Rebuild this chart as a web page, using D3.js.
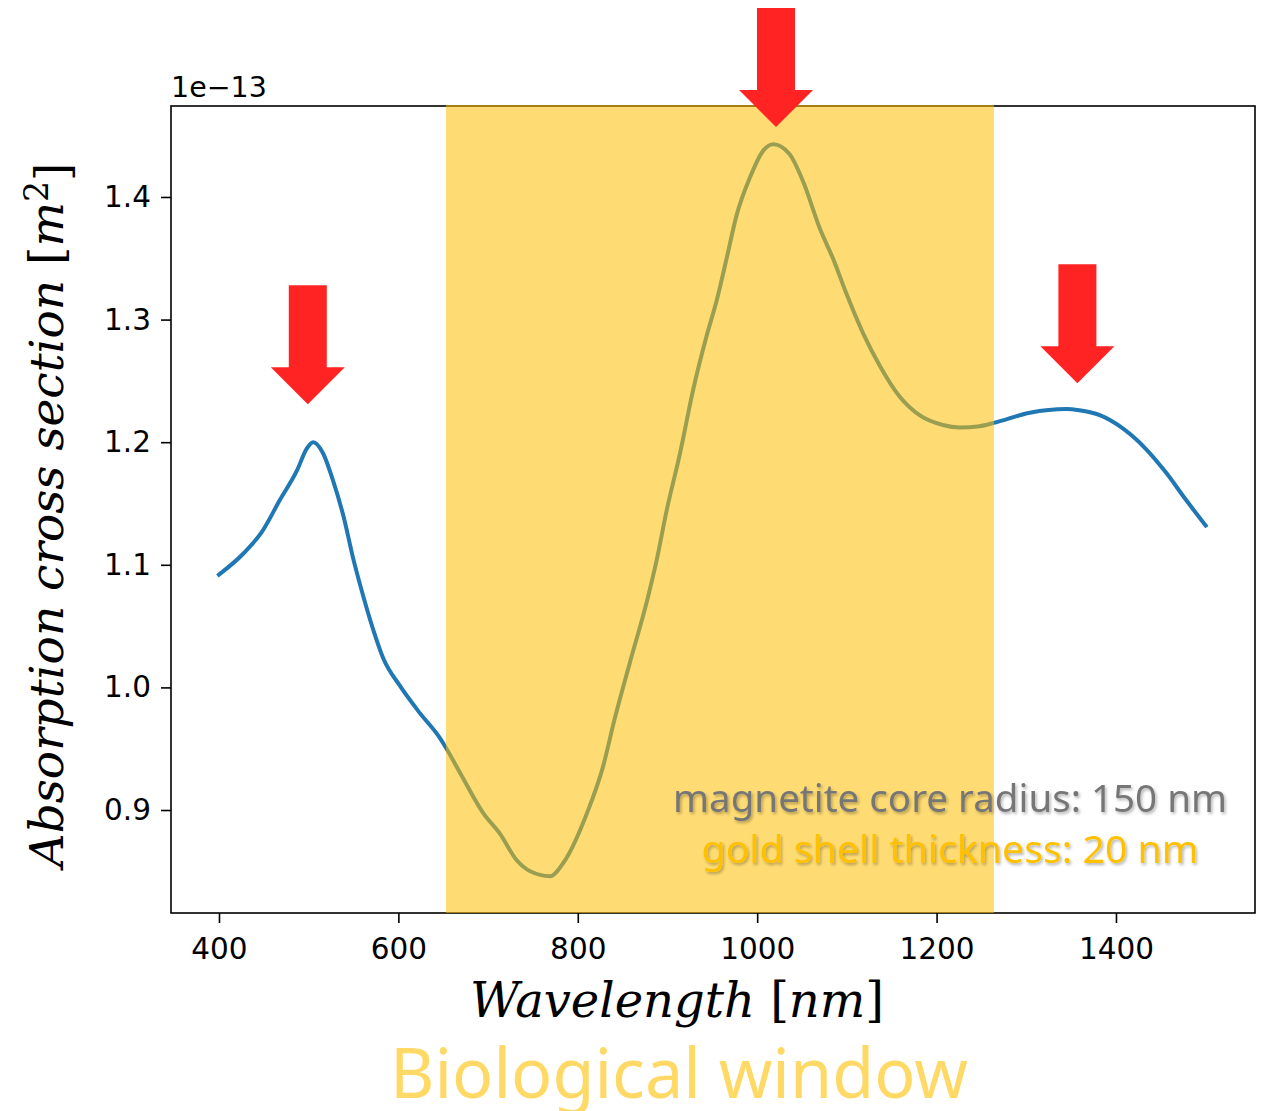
<!DOCTYPE html>
<html>
<head>
<meta charset="utf-8">
<script src="https://cdn.jsdelivr.net/npm/d3@7"></script>
<style>
  body { margin: 0; background: #fff; }
</style>
</head>
<body>
<svg id="chart" width="1268" height="1111"></svg>
<script>
// values (absorption in units of 1e-13 m^2)
const wavelength = [400, 427, 448, 468, 487, 498, 505, 516, 527, 539, 550, 561, 572, 583, 602, 624, 646, 652, 669, 695,
    713, 732, 747, 769, 784, 810, 828, 841, 858, 878, 888, 899, 914, 929, 943, 955, 966, 977, 992, 1007,
    1018, 1036, 1051, 1070, 1085, 1099, 1118, 1137, 1159, 1181, 1207, 1226, 1248, 1265, 1304, 1345, 1359, 1382, 1408, 1434,
    1456, 1478, 1500];
const absorption = [1.092, 1.109, 1.127, 1.153, 1.177, 1.195, 1.200, 1.191, 1.169, 1.139, 1.104, 1.074, 1.047, 1.024, 1.001, 0.979, 0.959, 0.952, 0.930, 0.897,
    0.881, 0.859, 0.850, 0.846, 0.857, 0.897, 0.935, 0.974, 1.020, 1.073, 1.104, 1.144, 1.191, 1.244, 1.285, 1.316, 1.350, 1.385, 1.416, 1.438,
    1.443, 1.435, 1.413, 1.374, 1.349, 1.322, 1.289, 1.262, 1.237, 1.222, 1.214, 1.212, 1.213, 1.216, 1.224, 1.227, 1.226, 1.222, 1.211, 1.194,
    1.175, 1.153, 1.132];

const xTicks = [400, 600, 800, 1000, 1200, 1400];
const yTicks = [0.9, 1.0, 1.1, 1.2, 1.3, 1.4];
const bandRange = [653, 1264];          // biological window (nm)
const arrowWavelength = [499, 1021, 1357];
const arrowTip = [1.231, 1.457, 1.248];
const notes = ["magnetite core radius: 150 nm", "gold shell thickness: 20 nm"];

const data = wavelength.map((w, i) => ({ w: w, v: absorption[i] }));

const margin = { top: 106, right: 13, bottom: 198, left: 171 };
const width = 1268, height = 1111;

const svg = d3.select("#chart");

const x = d3.scaleLinear().domain([346.5, 1555]).range([margin.left, width - margin.right]);
const y = d3.scaleLinear().domain([0.816, 1.4742]).range([height - margin.bottom, margin.top]);

const defs = svg.append("defs");
defs.append("filter")
    .attr("id", "shadow")
    .attr("x", "-10%").attr("y", "-30%").attr("width", "120%").attr("height", "160%")
    .append("feDropShadow")
    .attr("dx", 1.5).attr("dy", 2)
    .attr("stdDeviation", 1.5)
    .attr("flood-color", "#000")
    .attr("flood-opacity", 0.3);

// curve
const line = d3.line()
    .x(d => x(d.w))
    .y(d => y(d.v))
    .curve(d3.curveMonotoneX);

svg.append("path")
    .datum(data)
    .attr("d", line)
    .attr("fill", "none")
    .attr("stroke", "#1f77b4")
    .attr("stroke-width", 4)
    .attr("stroke-linejoin", "round")
    .attr("stroke-linecap", "square");

// axes
const xAxis = svg.append("g")
    .attr("transform", `translate(0, ${height - margin.bottom})`)
    .call(d3.axisBottom(x).tickValues(xTicks).tickSize(10).tickPadding(8).tickFormat(d3.format("d")));

const yAxis = svg.append("g")
    .attr("transform", `translate(${margin.left}, 0)`)
    .call(d3.axisLeft(y).tickValues(yTicks).tickSize(10).tickPadding(10).tickFormat(d3.format(".1f")));

[xAxis, yAxis].forEach(g => {
    g.select(".domain").remove();
    g.selectAll("line").attr("stroke", "#000").attr("stroke-width", 1.6);
    g.selectAll("text")
        .attr("fill", "#000")
        .style("font-family", "DejaVu Sans")
        .style("font-size", "29.5px");
});
xAxis.selectAll("text").attr("dy", "0.95em");

svg.append("rect")
    .attr("x", margin.left)
    .attr("y", margin.top)
    .attr("width", width - margin.left - margin.right)
    .attr("height", height - margin.top - margin.bottom)
    .attr("fill", "none")
    .attr("stroke", "#000")
    .attr("stroke-width", 1.6);

svg.append("text")
    .attr("x", margin.left)
    .attr("y", 97)
    .style("font-family", "DejaVu Sans")
    .style("font-size", "28.5px")
    .text("1e\u221213");

// axis labels
const xLabel = svg.append("text")
    .attr("x", 677)
    .attr("y", 1017)
    .attr("text-anchor", "middle")
    .style("font-family", "DejaVu Serif")
    .style("font-size", "48px");
xLabel.append("tspan").style("font-style", "italic").text("Wavelength");
xLabel.append("tspan").text(" [");
xLabel.append("tspan").style("font-style", "italic").text("nm");
xLabel.append("tspan").text("]");

const yLabel = svg.append("text")
    .attr("transform", `translate(63, 515) rotate(-90)`)
    .attr("text-anchor", "middle")
    .style("font-family", "DejaVu Serif")
    .style("font-size", "47px");
yLabel.append("tspan").style("font-style", "italic").text("Absorption cross section");
yLabel.append("tspan").text(" [");
yLabel.append("tspan").style("font-style", "italic").text("m");
yLabel.append("tspan").attr("dy", "-0.45em").style("font-size", "33px").text("2");
yLabel.append("tspan").attr("dy", "0.45em").text("]");

// biological window band (drawn over the curve)
svg.append("rect")
    .attr("x", x(bandRange[0]))
    .attr("y", margin.top - 1)
    .attr("width", x(bandRange[1]) - x(bandRange[0]))
    .attr("height", height - margin.top - margin.bottom + 1)
    .attr("fill", "#FFC000")
    .attr("opacity", 0.55);

// arrows
const shaftW = 38, headW = 74, headH = 37, arrowLen = 119;
svg.selectAll(".arrow")
    .data(arrowWavelength.map((w, i) => ({ w: w, v: arrowTip[i] })))
    .enter()
    .append("path")
    .attr("class", "arrow")
    .attr("fill", "#FF2323")
    .attr("d", d => {
        const cx = x(d.w), ty = y(d.v);
        const top = ty - arrowLen, neck = ty - headH;
        return `M${cx - shaftW / 2},${top}L${cx + shaftW / 2},${top}L${cx + shaftW / 2},${neck}` +
            `L${cx + headW / 2},${neck}L${cx},${ty}L${cx - headW / 2},${neck}L${cx - shaftW / 2},${neck}Z`;
    });

// notes
svg.selectAll(".note")
    .data(notes)
    .enter()
    .append("text")
    .attr("class", "note")
    .attr("x", 950)
    .attr("y", (d, i) => 812 + i * 51)
    .attr("text-anchor", "middle")
    .attr("fill", (d, i) => i === 0 ? "#767676" : "#FFC000")
    .attr("filter", "url(#shadow)")
    .style("font-family", "Noto Sans")
    .style("font-size", "39px")
    .attr("textLength", (d, i) => i === 0 ? 554 : 497)
    .attr("lengthAdjust", "spacingAndGlyphs")
    .text(d => d);

svg.append("text")
    .attr("x", 679)
    .attr("y", 1098)
    .attr("text-anchor", "middle")
    .attr("fill", "#FFD966")
    .style("font-family", "Noto Sans")
    .style("font-size", "70px")
    .attr("textLength", 578)
    .attr("lengthAdjust", "spacingAndGlyphs")
    .text("Biological window");
</script>
</body>
</html>
